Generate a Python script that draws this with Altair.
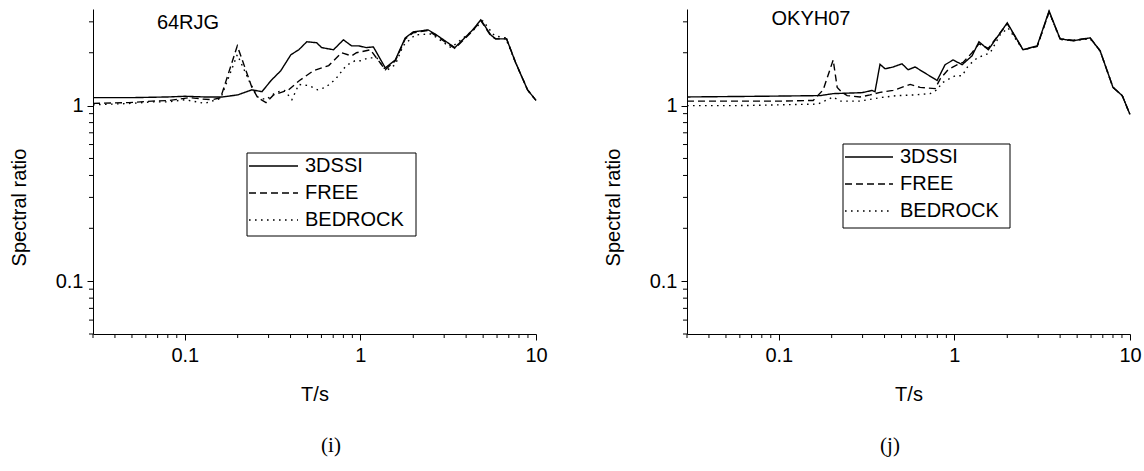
import altair as alt
import pandas as pd

# ---------------- data ----------------
SERIES = ["3DSSI", "FREE", "BEDROCK"]

# panel (i) 64RJG
T_3DSSI_I = [0.03, 0.05, 0.08, 0.1, 0.13, 0.163, 0.2, 0.241, 0.275, 0.31, 0.352, 0.402, 0.446, 0.495,
             0.564, 0.601, 0.703, 0.80, 0.89, 0.975, 1.08, 1.185, 1.386, 1.58, 1.80, 2.0, 2.43, 2.66,
             3.45, 4.36, 4.85, 5.52, 5.89, 6.80, 7.65, 8.95, 10]
R_3DSSI_I = [1.11, 1.11, 1.12, 1.13, 1.12, 1.12, 1.15, 1.23, 1.20, 1.39, 1.58, 1.95, 2.08, 2.31,
             2.28, 2.14, 2.08, 2.37, 2.19, 2.19, 2.14, 2.16, 1.64, 1.82, 2.43, 2.63, 2.70, 2.56,
             2.14, 2.70, 3.08, 2.53, 2.40, 2.40, 1.76, 1.23, 1.07]
T_FREE_I = [0.03, 0.048, 0.065, 0.082, 0.106, 0.125, 0.143, 0.16, 0.199, 0.241, 0.26, 0.29, 0.32,
            0.39, 0.45, 0.54, 0.66, 0.78, 0.89, 0.95, 1.14, 1.386, 1.58, 1.80, 2.0, 2.43, 2.66,
            3.45, 4.36, 4.85, 5.52, 5.89, 6.80, 7.65, 8.95, 10]
R_FREE_I = [1.03, 1.04, 1.06, 1.07, 1.11, 1.09, 1.08, 1.11, 2.19, 1.27, 1.11, 1.04, 1.15,
            1.23, 1.39, 1.58, 1.69, 2.0, 1.92, 2.0, 2.08, 1.60, 1.80, 2.40, 2.60, 2.68, 2.52,
            2.12, 2.66, 3.05, 2.50, 2.40, 2.40, 1.76, 1.23, 1.07]
T_BED_I = [0.03, 0.05, 0.065, 0.08, 0.1, 0.13, 0.16, 0.199, 0.235, 0.26, 0.29, 0.33, 0.37, 0.407,
           0.446, 0.51, 0.57, 0.634, 0.72, 0.83, 0.93, 1.0, 1.11, 1.24, 1.40, 1.58, 1.75, 2.05,
           2.53, 3.28, 4.36, 4.98, 5.8, 6.7, 7.65, 8.95, 10]
R_BED_I = [1.01, 1.03, 1.05, 1.05, 1.08, 1.03, 1.10, 1.95, 1.35, 1.12, 1.08, 1.19, 1.22, 1.08,
           1.32, 1.30, 1.23, 1.27, 1.41, 1.69, 1.80, 1.80, 1.87, 1.87, 1.58, 1.71, 2.19, 2.53,
           2.56, 2.14, 2.67, 3.04, 2.50, 2.43, 1.76, 1.23, 1.07]

# panel (j) OKYH07
T_3DSSI_J = [0.03, 0.078, 0.172, 0.204, 0.298, 0.34, 0.353, 0.377, 0.403, 0.448, 0.503, 0.545,
             0.597, 0.797, 0.885, 0.984, 1.107, 1.26, 1.38, 1.56, 2.0, 2.46, 2.96, 3.46, 4.0,
             4.74, 5.93, 6.76, 8.0, 9.03, 10]
R_3DSSI_J = [1.12, 1.13, 1.14, 1.17, 1.185, 1.22, 1.20, 1.72, 1.62, 1.66, 1.73, 1.60,
             1.66, 1.39, 1.71, 1.82, 1.71, 1.92, 2.31, 2.08, 2.96, 2.08, 2.19, 3.46, 2.40,
             2.34, 2.43, 2.05, 1.27, 1.14, 0.89]
T_FREE_J = [0.03, 0.06, 0.1, 0.157, 0.179, 0.204, 0.215, 0.229, 0.245, 0.29, 0.331, 0.377, 0.448,
            0.56, 0.638, 0.777, 0.83, 0.92, 1.04, 1.12, 1.26, 1.38, 1.56, 2.0, 2.46, 2.96, 3.46,
            4.0, 4.74, 5.93, 6.76, 8.0, 9.03, 10]
R_FREE_J = [1.06, 1.06, 1.06, 1.07, 1.23, 1.82, 1.27, 1.19, 1.14, 1.12, 1.15, 1.19, 1.22,
            1.32, 1.27, 1.25, 1.42, 1.60, 1.71, 1.76, 2.0, 2.25, 2.12, 2.93, 2.08, 2.17, 3.42,
            2.40, 2.36, 2.43, 2.05, 1.27, 1.14, 0.89]
T_BED_J = [0.03, 0.06, 0.1, 0.167, 0.204, 0.223, 0.29, 0.377, 0.472, 0.582, 0.728, 0.797, 0.851,
           1.01, 1.107, 1.2, 1.35, 1.60, 1.82, 2.02, 2.46, 2.96, 3.46, 4.0, 4.74, 5.93, 6.76,
           8.0, 9.03, 10]
R_BED_J = [1.0, 1.0, 1.01, 1.02, 1.12, 1.06, 1.06, 1.11, 1.14, 1.15, 1.17, 1.23, 1.35,
           1.48, 1.48, 1.69, 1.87, 2.0, 2.53, 2.77, 2.08, 2.17, 3.42, 2.38, 2.34, 2.40, 2.05,
           1.27, 1.14, 0.89]

X_MAJOR = [0.1, 1, 10]
X_MINOR = [0.03, 0.04, 0.05, 0.06, 0.07, 0.08, 0.09, 0.2, 0.3, 0.4, 0.5, 0.6, 0.7, 0.8, 0.9,
           2, 3, 4, 5, 6, 7, 8, 9]
Y_MAJOR = [0.1, 1]
Y_MINOR = [0.05, 0.06, 0.07, 0.08, 0.09, 0.2, 0.3, 0.4, 0.5, 0.6, 0.7, 0.8, 0.9, 2, 3]

# ---------------- styling ----------------
FONT = "Liberation Sans"
W, H = 443, 325
XDOM = [0.03, 10]
YDOM = [0.05, 3.55]
DASHES = [[1, 0], [7, 4], [1.6, 4.4]]


def make_df(ts, rs):
    rows = []
    for name, t, r in zip(SERIES, ts, rs):
        for a, b in zip(t, r):
            rows.append({"T": a, "R": b, "series": name})
    return pd.DataFrame(rows)


def panel(df, name, name_xy, legend, caption, caption_x):
    xs = alt.Scale(type="log", domain=XDOM, nice=False)
    ys = alt.Scale(type="log", domain=YDOM, nice=False)
    xaxis = alt.Axis(values=X_MAJOR, format="~g", title="T/s", tickSize=6, labelPadding=5,
                     titlePadding=19, labelFlush=False, labelOverlap=False)
    yaxis = alt.Axis(values=Y_MAJOR, format="~g", title="Spectral ratio", tickSize=6,
                     labelPadding=4, titleX=-74, titleY=198, titleBaseline="middle",
                     titleAlign="center", labelOverlap=False)

    lines = alt.Chart(df).mark_line(color="black", strokeWidth=1.4).encode(
        x=alt.X("T:Q", scale=xs, axis=xaxis),
        y=alt.Y("R:Q", scale=ys, axis=yaxis),
        strokeDash=alt.StrokeDash("series:N", scale=alt.Scale(domain=SERIES, range=DASHES),
                                  legend=None),
    )
    xminor = alt.Chart(pd.DataFrame({"T": X_MINOR})).mark_rule(color="black", strokeWidth=1).encode(
        x=alt.X("T:Q", scale=xs, axis=xaxis), y=alt.value(H), y2=alt.value(H + 4))
    yminor = alt.Chart(pd.DataFrame({"R": Y_MINOR})).mark_rule(color="black", strokeWidth=1).encode(
        y=alt.Y("R:Q", scale=ys, axis=yaxis), x=alt.value(-4), x2=alt.value(0))

    one = pd.DataFrame({"k": [0]})
    bx0, bx1, by0, by1, rows, lx0, lx1, tx = legend
    layers = [lines, xminor, yminor]
    layers.append(alt.Chart(one).mark_rect(fill="white", stroke="black", strokeWidth=1).encode(
        x=alt.value(bx0), x2=alt.value(bx1), y=alt.value(by0), y2=alt.value(by1)))
    for s, d, ry in zip(SERIES, DASHES, rows):
        layers.append(alt.Chart(one).mark_rule(color="black", strokeWidth=1.4, strokeDash=d).encode(
            x=alt.value(lx0), x2=alt.value(lx1), y=alt.value(ry)))
        layers.append(alt.Chart(one).mark_text(align="left", baseline="middle", font=FONT,
                                               fontSize=20, color="black").encode(
            x=alt.value(tx), y=alt.value(ry), text=alt.value(s)))
    layers.append(alt.Chart(one).mark_text(align="center", baseline="middle", font=FONT,
                                           fontSize=20, color="black").encode(
        x=alt.value(name_xy[0]), y=alt.value(name_xy[1]), text=alt.value(name)))
    layers.append(alt.Chart(one).mark_text(align="center", baseline="middle",
                                           font="Liberation Serif", fontSize=21,
                                           color="black").encode(
        x=alt.value(caption_x), y=alt.value(437), text=alt.value(caption)))
    return alt.layer(*layers).properties(width=W, height=H)


left = panel(make_df([T_3DSSI_I, T_FREE_I, T_BED_I], [R_3DSSI_I, R_FREE_I, R_BED_I]),
             "64RJG", (95, 14), (154, 323, 144, 227, [157, 184, 211], 156, 205, 212),
             "(i)", 238)
right = panel(make_df([T_3DSSI_J, T_FREE_J, T_BED_J], [R_3DSSI_J, R_FREE_J, R_BED_J]),
              "OKYH07", (124, 10), (156, 323, 135, 219, [148, 175, 202], 158, 206, 213),
              "(j)", 203)

chart = alt.hconcat(left, right, spacing=151, bounds="flush").properties(
    padding={"left": 9, "top": 8, "right": 2, "bottom": 2}
).configure_view(stroke=None).configure_axis(
    domainColor="black", tickColor="black", labelColor="black", titleColor="black",
    labelFont=FONT, titleFont=FONT, labelFontSize=20, titleFontSize=20,
    titleFontWeight="normal", grid=False, domainWidth=1, tickWidth=1
)

chart.save("out.html", embed_options={"renderer": "svg", "actions": False})
